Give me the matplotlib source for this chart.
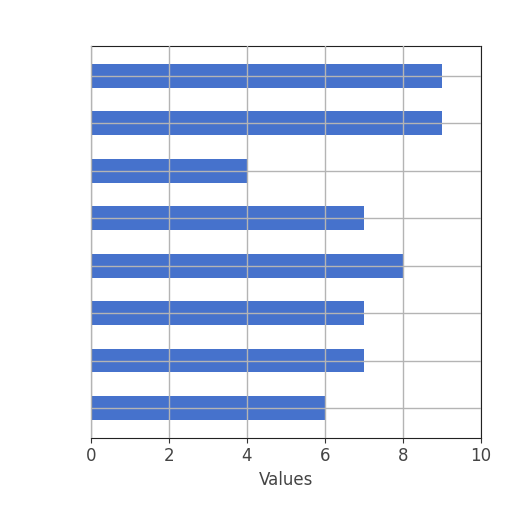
import matplotlib
matplotlib.use("Agg")
import matplotlib.pyplot as plt
import numpy as np

# values from top bar to bottom bar
values = [9, 9, 4, 7, 8, 7, 7, 6]
xticks = [0, 2, 4, 6, 8, 10]

fig = plt.figure(figsize=(5.12, 5.12), dpi=100)
ax = fig.add_axes([0.178, 0.145, 0.761, 0.765])

pos = np.arange(len(values))[::-1]
ax.barh(pos, values, height=0.5, color='#4672cc', zorder=1)

ax.set_xlim(0, 10)
ax.set_xticks(xticks)
ax.set_yticks(pos)
ax.set_yticklabels([])
ax.tick_params(axis='y', length=0)
ax.tick_params(axis='x', labelsize=12, labelcolor='#444444', color='#333333')
ax.set_axisbelow(False)
ax.grid(True, color='#b4b4b4', linewidth=1.0, zorder=2)
for s in ax.spines.values():
    s.set_color('#222222')
ax.set_xlabel('Values', fontsize=12, color='#444444')

plt.savefig('out.png', dpi=100)
